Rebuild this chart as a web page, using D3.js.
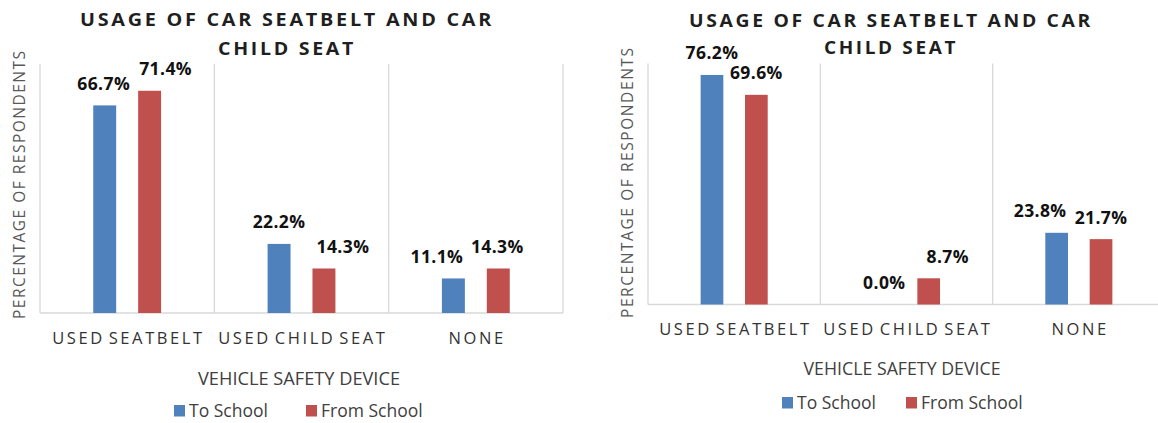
<!DOCTYPE html>
<html>
<head>
<meta charset="utf-8">
<script src="https://cdn.jsdelivr.net/npm/d3@7"></script>
<style>
  html, body { margin: 0; padding: 0; background: #ffffff; }
  svg { display: block; }
</style>
</head>
<body>
<svg id="chart" width="1158" height="423"></svg>
<script>
// ---- data ----
const categories = ["USED SEATBELT", "USED CHILD SEAT", "NONE"];
const seriesNames = ["To School", "From School"];
const toSchoolA = [66.7, 22.2, 11.1];
const fromSchoolA = [71.4, 14.3, 14.3];
const toSchoolB = [76.2, 0.0, 23.8];
const fromSchoolB = [69.6, 8.7, 21.7];
const yDomainMax = 80;
const titleLines = ["USAGE OF CAR SEATBELT AND CAR", "CHILD SEAT"];
const yAxisTitle = "PERCENTAGE OF RESPONDENTS";
const xAxisTitle = "VEHICLE SAFETY DEVICE";

// ---- styling ----
const colors = ["#4f81bd", "#c0504d"];
const gridColor = "#d9d9d9";

// ---- panel layout ----
const panels = [
  {
    values: [toSchoolA, fromSchoolA],
    left: 40, right: 563, top: 64, base: 313,
    titleX: 287, titleY: [26, 54.5], titleW: [414, 138],
    yTitleX: 25, yTitleY: 185, yTitleW: 268,
    catY: 343.5,
    axisTitleX: 299, axisTitleY: 385, axisTitleW: 202,
    legendY: 405, legendX: [174, 306],
    nudge: [[-1, 16], [0, 19], [-16.5, -1]]
  },
  {
    values: [toSchoolB, fromSchoolB],
    left: 648, right: 1165, top: 63.5, base: 304.5,
    titleX: 891, titleY: [26.5, 53.5], titleW: [404, 134],
    yTitleX: 633, yTitleY: 183, yTitleW: 270,
    catY: 335,
    axisTitleX: 902, axisTitleY: 375, axisTitleW: 197,
    legendY: 397, legendX: [782, 906],
    nudge: [[0, 0], [0, 19], [-16.5, 0]]
  }
];

const svg = d3.select("#chart");
const font = "'Open Sans', 'Liberation Sans', sans-serif";

panels.forEach(p => {
  const g = svg.append("g");

  const x0 = d3.scaleBand().domain(categories).range([p.left, p.right]).padding(0);
  const x1 = d3.scaleBand().domain(seriesNames).range([0, x0.bandwidth()])
    .paddingInner(0.489).paddingOuter(1.186);
  const y = d3.scaleLinear().domain([0, yDomainMax]).range([p.base, p.top]);

  // vertical category separators
  const sepX = categories.map(c => x0(c)).concat([p.right]);
  g.selectAll("line.sep").data(sepX).join("line")
    .attr("class", "sep")
    .attr("x1", d => d).attr("x2", d => d)
    .attr("y1", y(yDomainMax)).attr("y2", y(0))
    .attr("stroke", gridColor).attr("stroke-width", 1.3);

  // baseline
  g.append("line")
    .attr("x1", p.left).attr("x2", p.right)
    .attr("y1", y(0)).attr("y2", y(0))
    .attr("stroke", gridColor).attr("stroke-width", 1.5);

  // bars
  const rows = [];
  categories.forEach((c, ci) => {
    seriesNames.forEach((s, si) => {
      rows.push({ c, ci, s, si, v: p.values[si][ci] });
    });
  });

  g.selectAll("rect.bar").data(rows).join("rect")
    .attr("class", "bar")
    .attr("x", d => x0(d.c) + x1(d.s))
    .attr("width", x1.bandwidth())
    .attr("y", d => y(d.v))
    .attr("height", d => y(0) - y(d.v))
    .attr("fill", d => colors[d.si]);

  // value labels
  g.selectAll("text.val").data(rows).join("text")
    .attr("class", "val")
    .attr("x", d => x0(d.c) + x1(d.s) + x1.bandwidth() / 2 + p.nudge[d.ci][d.si])
    .attr("y", d => y(d.v) - 15.5)
    .attr("text-anchor", "middle")
    .attr("font-family", font)
    .attr("font-weight", "bold")
    .attr("font-size", 17.5)
    .attr("letter-spacing", 0.4)
    .attr("fill", "#111111")
    .text(d => d.v.toFixed(1) + "%");

  // category axis
  const axis = d3.axisBottom(x0).tickSize(0).tickPadding(0);
  const ax = g.append("g").attr("transform", `translate(1.3, ${p.catY})`).call(axis);
  ax.select(".domain").remove();
  ax.selectAll("text")
    .attr("dy", 0)
    .attr("font-family", font)
    .attr("font-size", 16.5)
    .attr("letter-spacing", 2.6)
    .attr("word-spacing", -3)
    .attr("fill", "#333333");

  // chart title
  titleLines.forEach((t, i) => {
    g.append("text")
      .attr("x", p.titleX).attr("y", p.titleY[i])
      .attr("text-anchor", "middle")
      .attr("font-family", font)
      .attr("font-weight", "bold")
      .attr("font-size", 17.5)
      .attr("letter-spacing", 2.4)
      .attr("textLength", p.titleW[i])
      .attr("lengthAdjust", "spacingAndGlyphs")
      .attr("fill", "#1f1f1f")
      .text(t);
  });

  // y axis title
  g.append("text")
    .attr("transform", `translate(${p.yTitleX}, ${p.yTitleY}) rotate(-90)`)
    .attr("text-anchor", "middle")
    .attr("font-family", font)
    .attr("font-size", 15.5)
    .attr("textLength", p.yTitleW)
    .attr("lengthAdjust", "spacing")
    .attr("fill", "#595959")
    .text(yAxisTitle);

  // x axis title
  g.append("text")
    .attr("x", p.axisTitleX).attr("y", p.axisTitleY)
    .attr("text-anchor", "middle")
    .attr("font-family", font)
    .attr("font-size", 18.5)
    .attr("textLength", p.axisTitleW)
    .attr("lengthAdjust", "spacingAndGlyphs")
    .attr("fill", "#404040")
    .text(xAxisTitle);

  // legend
  const lg = g.selectAll("g.leg").data(seriesNames).join("g")
    .attr("class", "leg")
    .attr("transform", (d, i) => `translate(${p.legendX[i]}, ${p.legendY})`);
  lg.append("rect")
    .attr("width", 11).attr("height", 11.5)
    .attr("fill", (d, i) => colors[i]);
  lg.append("text")
    .attr("x", 15).attr("y", 12)
    .attr("font-family", font)
    .attr("font-size", 17.5)
    .attr("fill", "#404040")
    .text(d => d);
});
</script>
</body>
</html>
